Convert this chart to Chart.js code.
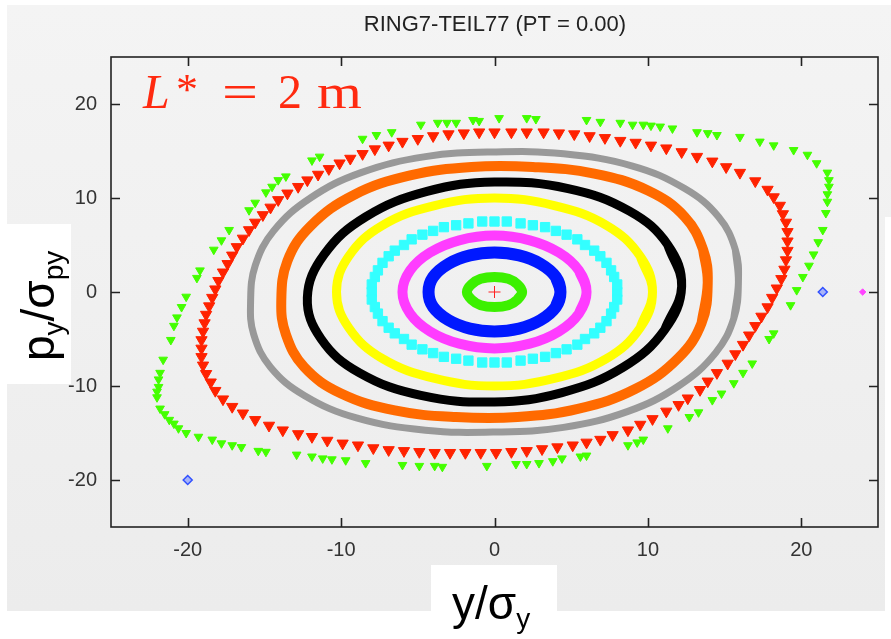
<!DOCTYPE html>
<html lang="en">
<head>
<meta charset="UTF-8" />
<title>RING7-TEIL77 (PT = 0.00)</title>
<script src="https://cdn.jsdelivr.net/npm/chart.js"></script>
<style>
  html, body { margin: 0; padding: 0; background: #fff; }
  .wrap { width: 891px; height: 639px; position: relative; }
</style>
</head>
<body>
<div class="wrap"><canvas id="phase"></canvas></div>
<script>
// axis ticks
const xTicks = [-20, -10, 0, 10, 20];
const yTicks = [-20, -10, 0, 10, 20];

// dense tracks (y/sigma_y, py/sigma_py)
const greenInner = [[1.8,0],[1.5,0.8],[0.9,1.4],[0,1.6],[-0.9,1.4],[-1.5,0.8],[-1.8,0],[-1.5,-0.8],[-0.9,-1.4],[0,-1.6],[0.9,-1.4],[1.5,-0.8]];
const blueRing = [[4.3,0],[4.0,1.6],[3.0,3.0],[1.6,3.9],[0,4.2],[-1.6,3.9],[-3.0,3.0],[-4.0,1.6],[-4.3,0],[-4.0,-1.6],[-3.0,-3.0],[-1.6,-3.9],[0,-4.2],[1.6,-3.9],[3.0,-3.0],[4.0,-1.6]];
const magentaRing = [[6.0,0],[5.5,2.3],[4.2,4.2],[2.3,5.5],[0,6.0],[-2.3,5.5],[-4.2,4.2],[-5.5,2.3],[-6.0,0],[-5.5,-2.3],[-4.2,-4.2],[-2.3,-5.5],[0,-6.0],[2.3,-5.5],[4.2,-4.2],[5.5,-2.3]];
const yellowRing = [[10.3,0],[9.5,3.8],[7.3,7.1],[3.9,9.2],[0,10.0],[-3.9,9.2],[-7.3,7.1],[-9.5,3.8],[-10.3,0],[-9.5,-3.8],[-7.3,-7.1],[-3.9,-9.2],[0,-10.0],[3.9,-9.2],[7.3,-7.1],[9.5,-3.8]];
const blackRing = [[12.2,0.6],[11.3,5.0],[8.8,8.6],[4.8,11.0],[0,11.7],[-4.4,10.7],[-8.4,8.0],[-11.1,4.0],[-12.2,-0.6],[-11.3,-5.0],[-8.8,-8.6],[-4.8,-11.0],[0,-11.7],[4.4,-10.7],[8.4,-8.0],[11.1,-4.0]];
const orangeRing = [[13.9,1.0],[13.6,4.5],[12.4,8.0],[10.0,10.8],[6.5,12.6],[2.5,13.3],[-1.5,13.3],[-5.5,12.4],[-9.2,10.3],[-12.0,7.0],[-13.5,3.3],
  [-13.9,-1.0],[-13.6,-4.5],[-12.4,-8.0],[-10.0,-10.8],[-6.5,-12.6],[-2.5,-13.3],[1.5,-13.3],[5.5,-12.4],[9.2,-10.3],[12.0,-7.0],[13.5,-3.3]];
const grayRing = [[15.9,1.0],[15.7,4.5],[14.6,8.0],[12.4,11.0],[9.0,13.4],[4.5,14.7],[0,14.9],[-4.5,14.4],[-8.7,12.7],[-12.0,10.0],[-14.4,6.5],[-15.6,2.8],
  [-15.9,-1.0],[-15.7,-4.5],[-14.6,-8.0],[-12.4,-11.0],[-9.0,-13.4],[-4.5,-14.7],[0,-14.9],[4.5,-14.4],[8.7,-12.7],[12.0,-10.0],[14.4,-6.5],[15.6,-2.8]];

// discrete markers
const cyanSquares = [[8.0,0],[8.0,0.8],[7.8,1.6],[7.6,2.3],[7.3,3.1],[6.9,3.8],[6.5,4.4],[5.9,5.0],[5.4,5.6],[4.7,6.1],[4.0,6.5],[3.3,6.9],[2.5,7.1],[1.7,7.3],[0.8,7.5],
  [0,7.5],[-0.8,7.5],[-1.7,7.3],[-2.5,7.1],[-3.3,6.9],[-4.0,6.5],[-4.7,6.1],[-5.4,5.6],[-5.9,5.0],[-6.5,4.4],[-6.9,3.8],[-7.3,3.1],[-7.6,2.3],[-7.8,1.6],[-8.0,0.8],
  [-8.0,0],[-8.0,-0.8],[-7.8,-1.6],[-7.6,-2.3],[-7.3,-3.1],[-6.9,-3.8],[-6.5,-4.4],[-5.9,-5.0],[-5.4,-5.6],[-4.7,-6.1],[-4.0,-6.5],[-3.3,-6.9],[-2.5,-7.1],[-1.7,-7.3],[-0.8,-7.5],
  [0,-7.5],[0.8,-7.5],[1.7,-7.3],[2.5,-7.1],[3.3,-6.9],[4.0,-6.5],[4.7,-6.1],[5.4,-5.6],[5.9,-5.0],[6.5,-4.4],[6.9,-3.8],[7.3,-3.1],[7.6,-2.3],[7.8,-1.6],[8.0,-0.8]];

const redTriangles = [[17.8,10.9],[17.0,11.8],[16.0,12.7],[15.1,13.3],[14.2,13.9],[13.2,14.4],[12.2,14.9],[11.2,15.3],[10.2,15.6],[9.2,15.9],[8.2,16.1],[7.2,16.4],[6.2,16.6],[5.2,16.8],[4.2,16.9],[3.2,17.0],[2.1,17.0],[1.1,17.0],[0.0,17.0],
  [-1.0,17.0],[-2.0,16.9],[-3.0,16.8],[-4.0,16.6],[-5.0,16.3],[-6.0,16.0],[-6.9,15.6],[-7.8,15.2],[-8.6,14.7],[-9.4,14.2],[-10.1,13.7],[-10.8,13.1],[-11.5,12.5],[-12.2,11.9],[-12.8,11.2],[-13.5,10.5],[-14.1,9.8],[-14.6,9.0],
  [-15.1,8.2],[-15.6,7.4],[-16.0,6.6],[-16.4,5.7],[-16.8,4.8],[-17.1,3.9],[-17.4,3.0],[-17.7,2.1],[-18.0,1.2],[-18.2,0.3],[-18.4,-0.6],[-18.6,-1.5],[-18.8,-2.4],[-18.9,-3.3],[-19.0,-4.2],[-19.1,-5.1],[-19.1,-6.0],[-19.1,-6.9],[-19.0,-7.8],[-18.8,-8.7],[-18.5,-9.6],[-18.2,-10.5],[-17.7,-11.4],[-17.1,-12.2],[-16.4,-12.9],[-15.6,-13.6],[-14.7,-14.2],[-13.8,-14.7],
  [-12.8,-15.1],[-11.9,-15.4],[-10.9,-15.8],[-9.9,-16.1],[-8.9,-16.3],[-7.9,-16.6],[-6.9,-16.8],[-5.9,-16.9],[-4.9,-17.0],[-3.9,-17.1],[-2.9,-17.1],[-1.9,-17.1],[-0.9,-17.1],[0.1,-17.1],[1.1,-17.0],[2.1,-16.9],[3.1,-16.7],[4.1,-16.5],[5.1,-16.3],[6.0,-16.0],[6.9,-15.7],[7.7,-15.2],[8.7,-14.7],[9.5,-14.1],[10.3,-13.5],[11.2,-12.7],[12.0,-12.0],[12.6,-11.3],[13.4,-10.4],[13.9,-9.5],[14.5,-8.6],[15.2,-7.6],
  [15.7,-6.6],[16.2,-5.6],[16.6,-4.6],[17.0,-3.6],[17.4,-2.6],[17.8,-1.6],[18.1,-0.6],[18.4,0.4],[18.7,1.4],[18.9,2.4],[19.0,3.4],[19.1,4.4],[19.1,5.4],[19.1,6.4],[19.0,7.4],[18.8,8.3],[18.6,9.2],[18.2,10.1]];

const greenTriangles = [[-17.3,6.6],[-16.0,8.7],[-15.6,9.5],[-14.9,10.6],[-14.5,11.2],[-14.1,11.9],[-13.6,12.3],[-11.9,14.0],[-11.4,14.4],[-8.6,16.3],[-7.7,16.7],[-6.7,17.0],[-4.8,17.8],[-3.7,18.0],[-3.1,18.0],[-2.5,18.0],[-1.4,18.3],[-1.0,18.2],[0.3,18.5],[2.1,18.5],[2.7,18.4],[6.0,18.3],[6.9,18.1],[8.2,18.0],[9.0,17.8],[9.7,17.8],[10.2,17.7],[10.8,17.6],[11.6,17.4],[13.2,17.0],[13.9,16.9],[14.5,16.7],
  [16.0,16.5],[17.3,16.0],[18.2,15.6],[19.5,15.1],[20.4,14.6],[21.0,13.7],[21.7,12.7],[21.8,11.9],[21.8,11.2],[21.7,10.4],[21.7,9.6],[21.6,8.4],[21.4,6.6],[21.1,5.3],[20.8,4.0],[20.5,2.8],[20.1,1.6],[19.7,0.2],[19.3,-1.4],[18.2,-4.4],[17.9,-5.0],[16.8,-7.6],[16.2,-8.6],[15.6,-9.7],[14.8,-10.8],[14.2,-11.5],[13.3,-12.8],[12.7,-13.3],[11.3,-14.5],[9.7,-15.7],[9.3,-16.0],[8.7,-16.3],
  [6.0,-17.4],[5.6,-17.5],[4.4,-17.7],[3.8,-18.0],[2.9,-18.2],[2.1,-18.3],[1.4,-18.3],[-0.5,-18.5],[-3.4,-18.6],[-3.9,-18.5],[-4.9,-18.5],[-6.0,-18.4],[-8.4,-18.2],[-9.7,-17.9],[-10.6,-17.8],[-11.2,-17.7],[-11.9,-17.5],[-12.9,-17.3],[-14.9,-17.0],[-15.4,-16.9],[-16.5,-16.5],[-17.1,-16.3],[-17.8,-16.1],[-18.4,-15.7],[-19.3,-15.4],[-20.1,-15.0],[-20.6,-14.5],[-20.9,-14.0],[-21.2,-13.6],[-21.5,-13.0],
  [-21.8,-12.4],[-22.0,-11.2],[-22.0,-10.6],[-21.9,-10.1],[-21.9,-9.3],[-21.8,-8.6],[-21.6,-7.2],[-21.1,-5.1],[-20.9,-3.6],[-20.7,-2.7],[-20.4,-1.6],[-20.1,-0.5],[-19.4,1.5],[-19.2,2.3],[-18.3,4.5],[-17.8,5.5]];

const blueLost = [[-20.0,-20.0],[21.4,0.0]];
const magentaLost = [[24.0,0.0]];
const origin = [[0,0]];

function pts(list) { return list.map(([x, y]) => ({ x, y })); }
// closed track: start one point early and run two points past the start,
// so the seam lies on an overlapped piece with proper tangents
function loop(list) {
  const n = list.length;
  return pts([list[n - 1]].concat(list, [list[0], list[1]]));
}

function ring(label, list, color, width) {
  return { label, data: loop(list), showLine: true, borderColor: color, borderWidth: width,
    pointRadius: 0, tension: 0.4, fill: false, borderJoinStyle: 'round', borderCapStyle: 'butt' };
}
function marks(label, list, color, style, radius, rotation) {
  return { label, data: pts(list), showLine: false, pointStyle: style, pointRadius: radius,
    pointRotation: rotation || 0, backgroundColor: color, borderColor: color, borderWidth: 1 };
}

const bgPlugin = {
  id: 'bg',
  beforeDraw(chart) {
    const ctx = chart.ctx;
    ctx.save();
    ctx.fillStyle = '#ffffff';
    ctx.fillRect(0, 0, chart.width, chart.height);
    const g = ctx.createLinearGradient(0, 5, 0, 611);
    g.addColorStop(0, '#f4f4f4');
    g.addColorStop(1, '#ececec');
    ctx.fillStyle = g;
    ctx.fillRect(7, 5, 884, 606);
    ctx.fillStyle = '#ffffff';
    ctx.fillRect(885, 217, 6, 394);
    ctx.fillRect(7, 224, 64, 160);
    ctx.fillRect(431, 565, 126, 74);
    ctx.restore();
  }
};

const framePlugin = {
  id: 'frame',
  afterDraw(chart) {
    const { ctx, chartArea: a, scales } = chart;
    ctx.save();
    ctx.strokeStyle = '#222';
    ctx.lineWidth = 1.6;
    ctx.strokeRect(a.left, a.top, a.right - a.left, a.bottom - a.top);
    ctx.beginPath();
    xTicks.forEach(v => {
      const px = Math.round(scales.x.getPixelForValue(v)) + 0.5;
      ctx.moveTo(px, a.bottom); ctx.lineTo(px, a.bottom - 9);
      ctx.moveTo(px, a.top); ctx.lineTo(px, a.top + 9);
    });
    yTicks.forEach(v => {
      const py = Math.round(scales.y.getPixelForValue(v)) + 0.5;
      ctx.moveTo(a.left, py); ctx.lineTo(a.left + 9, py);
      ctx.moveTo(a.right, py); ctx.lineTo(a.right - 9, py);
    });
    ctx.stroke();

    // title
    ctx.fillStyle = '#222';
    ctx.font = '22px "Liberation Sans", Arial, sans-serif';
    ctx.textAlign = 'center';
    ctx.textBaseline = 'alphabetic';
    ctx.fillText('RING7-TEIL77 (PT = 0.00)', 495, 31);

    // L* = 2 m
    ctx.fillStyle = '#ff2a10';
    ctx.textAlign = 'left';
    ctx.font = 'italic 48px "Liberation Serif", "DejaVu Serif", serif';
    ctx.fillText('L', 143, 108);
    ctx.font = '44px "Liberation Serif", serif';
    ctx.fillText('*', 176, 104);
    ctx.font = '48px "Liberation Serif", serif';
    ctx.save(); ctx.translate(222, 108); ctx.scale(1.33, 1); ctx.fillText('=', 0, 0); ctx.restore();
    ctx.fillText('2', 278, 108);
    ctx.save(); ctx.translate(317, 108); ctx.scale(1.2, 1); ctx.fillText('m', 0, 0); ctx.restore();

    // axis titles
    const big = '46px "Liberation Sans", Arial, sans-serif';
    const small = '28px "Liberation Sans", Arial, sans-serif';
    ctx.fillStyle = '#000';
    let x = 452;
    ctx.font = big; ctx.fillText('y/σ', x, 619); x += ctx.measureText('y/σ').width;
    ctx.font = small; ctx.fillText('y', x, 628);

    ctx.save();
    ctx.translate(54, 361);
    ctx.rotate(-Math.PI / 2);
    let t = 0;
    ctx.font = big; ctx.fillText('p', t, 0); t += ctx.measureText('p').width;
    ctx.font = small; ctx.fillText('y', t, 9); t += ctx.measureText('y').width;
    ctx.font = big; ctx.fillText('/σ', t, 0); t += ctx.measureText('/σ').width;
    ctx.font = small; ctx.fillText('py', t, 9);
    ctx.restore();
    ctx.restore();
  }
};

const tickFont = { family: '"Liberation Sans", Arial, sans-serif', size: 20 };

new Chart(document.getElementById('phase'), {
  type: 'scatter',
  data: {
    datasets: [
      marks('origin', origin, '#ff2020', 'cross', 6),
      ring('green inner', greenInner, '#3cf000', 10),
      ring('blue', blueRing, '#0018ff', 12),
      ring('magenta', magentaRing, '#ff3cff', 10),
      marks('cyan', cyanSquares, '#33ffff', 'rect', 6.6),
      ring('yellow', yellowRing, '#ffff00', 9),
      ring('black', blackRing, '#000000', 9),
      ring('orange', orangeRing, '#ff6a00', 10),
      ring('gray', grayRing, '#999999', 7),
      marks('red', redTriangles, '#ff2200', 'triangle', 6.5, 180),
      marks('green outer', greenTriangles, '#44ff00', 'triangle', 5, 180),
      Object.assign(marks('blue lost', blueLost, 'rgba(120,140,255,0.6)', 'rectRot', 4.5), { borderColor: '#3050ff', borderWidth: 1.5 }),
      marks('magenta lost', magentaLost, '#ff44ff', 'rectRot', 3.2)
    ]
  },
  options: {
    responsive: true,
    maintainAspectRatio: false,
    animation: false,
    events: [],
    layout: { padding: { top: 57, right: 13, bottom: 0, left: 0 } },
    plugins: { legend: { display: false }, tooltip: { enabled: false } },
    scales: {
      x: {
        type: 'linear', min: -25, max: 25,
        grid: { display: false, drawTicks: false },
        border: { display: false },
        afterBuildTicks: s => { s.ticks = xTicks.map(v => ({ value: v })); },
        afterFit: s => { s.height = 112; },
        ticks: { font: tickFont, color: '#333', padding: 11 }
      },
      y: {
        type: 'linear', min: -25, max: 25,
        grid: { display: false, drawTicks: false },
        border: { display: false },
        afterBuildTicks: s => { s.ticks = yTicks.map(v => ({ value: v })); },
        afterFit: s => { s.width = 111; },
        ticks: { font: tickFont, color: '#333', padding: 14 }
      }
    }
  },
  plugins: [bgPlugin, framePlugin]
});
</script>
</body>
</html>
